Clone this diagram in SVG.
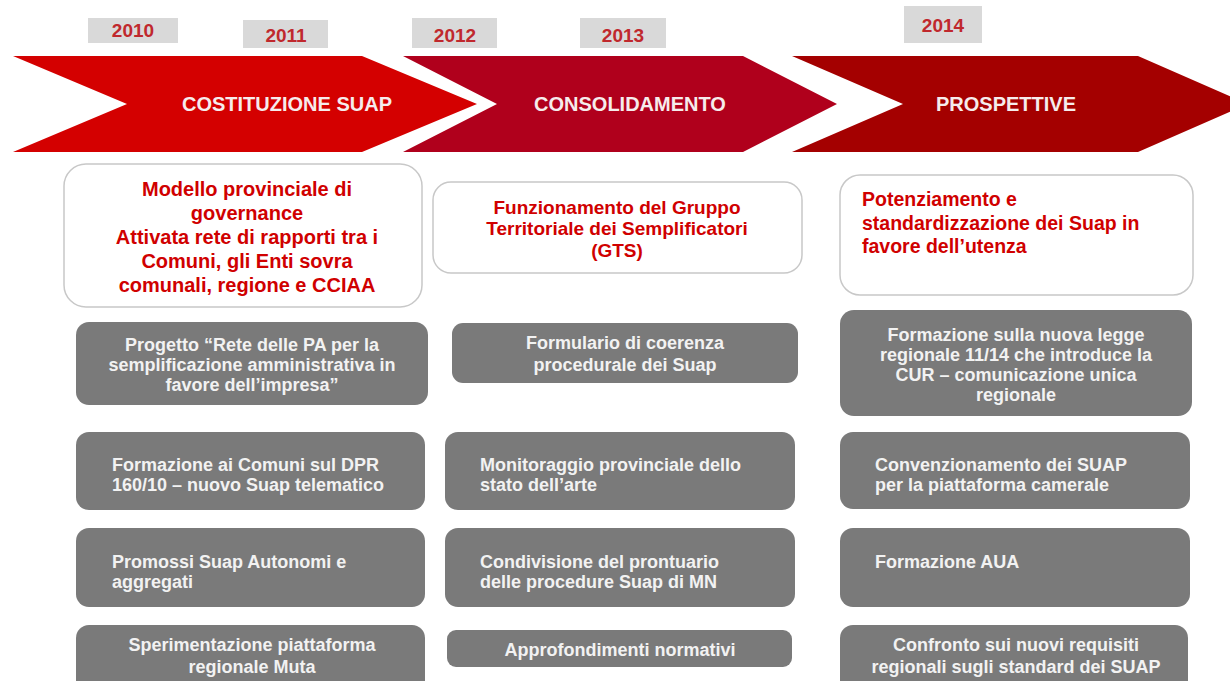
<svg xmlns="http://www.w3.org/2000/svg" width="1230" height="681" viewBox="0 0 1230 681">
<style>
.yr{fill:#d9d9d9}
.yt{font-family:"Liberation Sans",Arial,sans-serif;font-weight:bold;font-size:19px;fill:#c0282d;text-anchor:middle}
.al{font-family:"Liberation Sans",Arial,sans-serif;font-weight:bold;font-size:20px;fill:#f6ecec;text-anchor:middle}
.wb{fill:#ffffff;stroke:#c8c8c8;stroke-width:1.5}
.rt{font-family:"Liberation Sans",Arial,sans-serif;font-weight:bold;fill:#d00000}
.gb{fill:#7a7a7a}
.gt{font-family:"Liberation Sans",Arial,sans-serif;font-weight:bold;font-size:18px;fill:#f2f2f2}
.c{text-anchor:middle}
</style>
<rect width="1230" height="681" fill="#ffffff"/>
<g id="years">
<rect class="yr" x="88" y="18" width="90" height="25"/><text class="yt" x="133" y="37">2010</text>
<rect class="yr" x="243" y="20" width="85" height="28"/><text class="yt" x="286" y="42">2011</text>
<rect class="yr" x="412" y="18" width="85" height="30"/><text class="yt" x="455" y="42">2012</text>
<rect class="yr" x="580" y="18" width="86" height="30"/><text class="yt" x="623" y="42">2013</text>
<rect class="yr" x="904" y="6" width="78" height="37"/><text class="yt" x="943" y="32">2014</text>
</g>
<g id="phase1">
<polygon points="13,56 362,56 477,104 362,152 13,152 127,104" fill="#d40000"/>
<text class="al" x="287" y="111">COSTITUZIONE SUAP</text>
</g>
<g id="phase2">
<polygon points="403,56 743,56 837,104 743,152 403,152 497,104" fill="#b0001c"/>
<text class="al" x="630" y="111">CONSOLIDAMENTO</text>
</g>
<g id="phase3">
<polygon points="792,56 1138,56 1248,104 1138,152 792,152 903,104" fill="#a40000"/>
<text class="al" x="1006" y="111">PROSPETTIVE</text>
</g>
<g id="goal1">
<rect class="wb" x="64" y="164" width="358" height="143" rx="22"/>
<text class="rt c" font-size="20"><tspan x="247" y="196">Modello provinciale di</tspan><tspan x="247" y="220">governance</tspan><tspan x="247" y="244">Attivata rete di rapporti tra i</tspan><tspan x="247" y="268">Comuni, gli Enti sovra</tspan><tspan x="247" y="292">comunali, regione e CCIAA</tspan></text>
</g>
<g id="goal2">
<rect class="wb" x="433" y="182" width="369" height="91" rx="18"/>
<text class="rt c" font-size="19"><tspan x="617" y="214">Funzionamento del Gruppo</tspan><tspan x="617" y="235">Territoriale dei Semplificatori</tspan><tspan x="617" y="257">(GTS)</tspan></text>
</g>
<g id="goal3">
<rect class="wb" x="840" y="175" width="353" height="120" rx="20"/>
<text class="rt" font-size="19.5"><tspan x="862" y="206">Potenziamento e</tspan><tspan x="862" y="230">standardizzazione dei Suap in</tspan><tspan x="862" y="253">favore dell’utenza</tspan></text>
</g>
<g id="c1b1"><rect class="gb" x="76" y="322" width="352" height="83" rx="13"/>
<text class="gt c"><tspan x="252" y="351">Progetto “Rete delle PA per la</tspan><tspan x="252" y="371">semplificazione amministrativa in</tspan><tspan x="252" y="391">favore dell’impresa”</tspan></text></g>
<g id="c1b2"><rect class="gb" x="76" y="432" width="349" height="78" rx="13"/>
<text class="gt"><tspan x="112" y="471">Formazione ai Comuni sul DPR</tspan><tspan x="112" y="491">160/10 – nuovo Suap telematico</tspan></text></g>
<g id="c1b3"><rect class="gb" x="76" y="528" width="349" height="79" rx="13"/>
<text class="gt"><tspan x="112" y="568">Promossi Suap Autonomi e</tspan><tspan x="112" y="588">aggregati</tspan></text></g>
<g id="c1b4"><rect class="gb" x="76" y="625" width="349" height="70" rx="13"/>
<text class="gt c"><tspan x="252" y="651">Sperimentazione piattaforma</tspan><tspan x="252" y="673">regionale Muta</tspan></text></g>
<g id="c2b1"><rect class="gb" x="452" y="323" width="346" height="60" rx="11"/>
<text class="gt c"><tspan x="625" y="349">Formulario di coerenza</tspan><tspan x="625" y="371">procedurale dei Suap</tspan></text></g>
<g id="c2b2"><rect class="gb" x="445" y="432" width="350" height="78" rx="13"/>
<text class="gt"><tspan x="480" y="471">Monitoraggio provinciale dello</tspan><tspan x="480" y="491">stato dell’arte</tspan></text></g>
<g id="c2b3"><rect class="gb" x="445" y="528" width="350" height="79" rx="13"/>
<text class="gt"><tspan x="480" y="568">Condivisione del prontuario</tspan><tspan x="480" y="588">delle procedure Suap di MN</tspan></text></g>
<g id="c2b4"><rect class="gb" x="447" y="630" width="345" height="37" rx="9"/>
<text class="gt c" x="620" y="656">Approfondimenti normativi</text></g>
<g id="c3b1"><rect class="gb" x="840" y="310" width="352" height="106" rx="14"/>
<text class="gt c"><tspan x="1016" y="341">Formazione sulla nuova legge</tspan><tspan x="1016" y="361">regionale 11/14 che introduce la</tspan><tspan x="1016" y="381">CUR – comunicazione unica</tspan><tspan x="1016" y="401">regionale</tspan></text></g>
<g id="c3b2"><rect class="gb" x="840" y="432" width="350" height="77" rx="13"/>
<text class="gt"><tspan x="875" y="471">Convenzionamento dei SUAP</tspan><tspan x="875" y="491">per la piattaforma camerale</tspan></text></g>
<g id="c3b3"><rect class="gb" x="840" y="528" width="350" height="79" rx="13"/>
<text class="gt" x="875" y="568">Formazione AUA</text></g>
<g id="c3b4"><rect class="gb" x="840" y="625" width="348" height="70" rx="13"/>
<text class="gt c"><tspan x="1016" y="651">Confronto sui nuovi requisiti</tspan><tspan x="1016" y="673">regionali sugli standard dei SUAP</tspan></text></g>
<g id="connectors"></g>
</svg>
